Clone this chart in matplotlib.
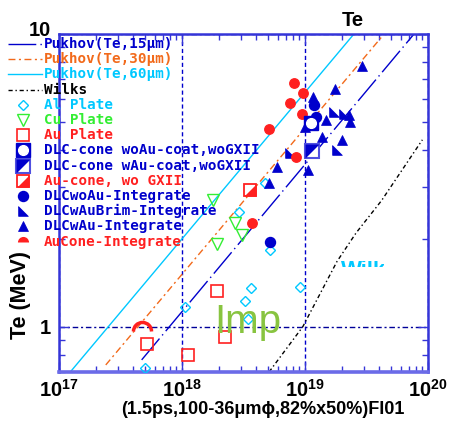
import matplotlib
matplotlib.use('Agg')
import matplotlib.pyplot as plt
from matplotlib.path import Path
from matplotlib.ticker import NullFormatter
from matplotlib.transforms import Bbox, TransformedBbox, ScaledTranslation

plt.rcParams['font.family'] = ['Liberation Sans', 'DejaVu Sans']
plt.rcParams['mathtext.fontset'] = 'custom'
plt.rcParams['mathtext.rm'] = 'Liberation Sans'
plt.rcParams['mathtext.bf'] = 'Liberation Sans:bold'
plt.rcParams['mathtext.default'] = 'bf'

# ---- datos ----
x_ticks = [1e17, 1e18, 1e19, 1e20]
x_tick_labels = [r'$10^{17}$', r'$10^{18}$', r'$10^{19}$', r'$10^{20}$']
y_ticks = [1, 10]
y_tick_labels = ['1', '10']

pukhov15_I = [4.7e17, 7.7e19]
pukhov15_Te = [0.77, 10.0]
pukhov30_I = [2.4e17, 4.4e19]
pukhov30_Te = [0.74, 10.0]
pukhov60_I = [1.2e17, 2.5e19]
pukhov60_Te = [0.69, 10.0]
wilks_I = [5.1e18, 9.6e18, 1.82e19, 2.6e19, 4.2e19, 9.0e19]
wilks_Te = [0.70, 1.0, 1.67, 2.09, 2.7, 4.35]

al_I = [5.0e17, 1.06e18, 3.25e18, 3.64e18, 3.44e18, 9.1e18, 5.19e18, 2.90e18, 4.73e18]
al_Te = [0.72, 1.17, 1.22, 1.36, 1.06, 1.37, 1.83, 2.47, 3.10]
cu_I = [1.79e18, 2.70e18, 3.08e18, 1.93e18]
cu_Te = [2.71, 2.26, 2.06, 1.92]
au_I = [5.2e17, 1.12e18, 2.24e18, 1.93e18]
au_Te = [0.87, 0.80, 0.92, 1.32]
dlc_woau_cone_I = [1.12e19]
dlc_woau_cone_Te = [4.97]
dlc_wau_cone_I = [1.14e19]
dlc_wau_cone_Te = [3.99]
au_cone_I = [3.57e18]
au_cone_Te = [2.94]
dlcwoau_int_I = [5.19e18, 1.18e19, 1.23e19]
dlcwoau_int_Te = [1.95, 5.72, 5.21]
brim_int_I = [1.72e19, 1.82e19, 7.6e18, 2.08e19]
brim_int_Te = [5.42, 4.02, 3.93, 5.33]
dlcwau_int_I = [2.91e19, 1.75e19, 1.48e19, 2.28e19, 2.32e19, 1.37e19, 2.0e19,
                5.92e18, 1.06e19, 5.10e18, 1.0e19, 1.16e19]
dlcwau_int_Te = [7.78, 6.49, 5.09, 5.29, 5.01, 4.45, 4.35, 3.52, 3.43, 3.10, 4.81, 6.10]
aucone_int_I = [8.15e18, 9.64e18, 7.55e18, 9.46e18, 5.10e18, 8.45e18, 3.71e18]
aucone_int_Te = [6.80, 6.29, 5.82, 5.33, 4.74, 3.80, 2.26]
arco_I = [4.7e17]
arco_Te = [0.97]

# ---- estilos ----
AZUL = '#0000cc'
NARANJA = '#f26a1b'
CIAN = '#00c8ff'
VERDE = '#33ee33'
ROJO = '#ff2020'
ESPINA = '#3535d8'

tri_ul = [(-1, 1), (-1, -1), (1, 1), (-1, 1)]
tri_lr = [(1, 1), (1, -1), (-1, -1), (1, 1)]
brim = [(-1, 1), (-1, -1), (1, -1), (-1, 1)]

estilo_p15 = (0, (20, 3, 1, 3))
estilo_p30 = (0, (5, 2.5, 1.5, 2.5))
estilo_wilks = (0, (3, 2, 1, 2))

fig = plt.figure(figsize=(4.54, 4.22), dpi=100)
ax = fig.add_axes([59 / 454, 1 - 372 / 422, (428 - 59) / 454, (372 - 34) / 422])
ax.set_xscale('log')
ax.set_yscale('log')
ax.set_xlim(1e17, 1e20)
ax.set_ylim(0.70, 10)

# lineas teoricas
ax.plot(pukhov15_I, pukhov15_Te, color=AZUL, lw=1, ls=estilo_p15, zorder=2)
ax.plot(pukhov30_I, pukhov30_Te, color=NARANJA, lw=1, ls=estilo_p30, zorder=2)
ax.plot(pukhov60_I, pukhov60_Te, color=CIAN, lw=1, zorder=2)
ax.plot(wilks_I, wilks_Te, color='black', lw=1, ls=estilo_wilks, zorder=2)

# datos experimentales
ax.plot(al_I, al_Te, ls='none', marker='D', ms=5.6, mfc='none', mec=CIAN, mew=1, zorder=3)
ax.plot(cu_I, cu_Te, ls='none', marker='v', ms=9, mfc='none', mec=VERDE, mew=1, zorder=3)
ax.plot(au_I, au_Te, ls='none', marker='s', ms=8, mfc='none', mec=ROJO, mew=1.2, zorder=3)
ax.plot(dlcwoau_int_I, dlcwoau_int_Te, ls='none', marker='o', ms=7.2, mfc=AZUL, mec=AZUL, zorder=4)
ax.plot(brim_int_I, brim_int_Te, ls='none', marker=brim, ms=7, mfc=AZUL, mec=AZUL, mew=0.5, zorder=4)
ax.plot(dlcwau_int_I, dlcwau_int_Te, ls='none', marker='^', ms=7, mfc=AZUL, mec=AZUL, mew=0.5, zorder=4)
ax.plot(aucone_int_I, aucone_int_Te, ls='none', marker='o', ms=6.8, mfc=ROJO, mec=ROJO, zorder=4)
ax.plot(dlc_woau_cone_I, dlc_woau_cone_Te, ls='none', marker='s', ms=10, mfc=AZUL, mec=AZUL, zorder=5)
ax.plot(dlc_woau_cone_I, dlc_woau_cone_Te, ls='none', marker='o', ms=7, mfc='white', mec='white', zorder=5)
ax.plot(dlc_wau_cone_I, dlc_wau_cone_Te, ls='none', marker='s', ms=10, mfc='white', mec='#5050e0', mew=1.5, zorder=5)
ax.plot(dlc_wau_cone_I, dlc_wau_cone_Te, ls='none', marker=tri_ul, ms=10, mfc=AZUL, mec='none', zorder=5)
ax.plot(au_cone_I, au_cone_Te, ls='none', marker='s', ms=9, mfc='white', mec=ROJO, mew=1.3, zorder=5)
ax.plot(au_cone_I, au_cone_Te, ls='none', marker=tri_lr, ms=9, mfc=ROJO, mec='none', zorder=5)
ax.plot(arco_I, arco_Te, ls='none', marker=Path.arc(0, 180), ms=13, mfc='none', mec=ROJO, mew=2.5, zorder=5)

# ejes
ax.xaxis.grid(True, which='major', color=AZUL, lw=1, ls=(0, (3, 2)))
ax.yaxis.grid(True, which='major', color='#000099', lw=1, ls=(0, (4, 2, 1.5, 2)))
ax.set_xticks(x_ticks)
ax.set_xticklabels(x_tick_labels)
ax.set_yticks(y_ticks)
ax.set_yticklabels(y_tick_labels)
ax.xaxis.set_minor_formatter(NullFormatter())
ax.yaxis.set_minor_formatter(NullFormatter())
ax.tick_params(which='both', direction='in', top=True, right=True, color=ESPINA, width=1)
ax.tick_params(which='major', length=7)
ax.tick_params(which='minor', length=4.5)
ax.tick_params(axis='x', labelsize=14.5, pad=5)
ax.tick_params(axis='y', labelsize=14.5, pad=6)
for lab in ax.get_yticklabels():
    lab.set_fontweight('bold')
# el "10" un poco mas arriba, como en el original
lab10 = ax.get_yticklabels()[1]
lab10.set_transform(lab10.get_transform() + ScaledTranslation(0, 4 / 72, fig.dpi_scale_trans))
for lado in ['left', 'top', 'right']:
    ax.spines[lado].set_color(ESPINA)
    ax.spines[lado].set_linewidth(1.8)
ax.spines['bottom'].set_color('#6b6be8')
ax.spines['bottom'].set_linewidth(2.6)

# textos en coordenadas de pixel
lax = fig.add_axes([0, 0, 1, 1], zorder=10)
lax.set_xlim(0, 454)
lax.set_ylim(422, 0)
lax.axis('off')

lax.text(353, 20, 'Te', ha='center', va='center', fontsize=14.5, fontweight='bold')
lax.text(21, 295, 'Te (MeV)', ha='center', va='center', rotation=90, fontsize=15.5, fontweight='bold')
lax.text(263, 410, '(1.5ps,100-36μmϕ,82%x50%)FI01', ha='center', va='center',
         fontsize=13, fontweight='bold')
lax.text(214, 333, 'Imp', ha='left', va='baseline', color='#88c440', fontsize=29)
wi = lax.text(341, 260, 'Wilks', ha='left', va='top', color=CIAN, fontsize=16, fontweight='bold')
wi.set_clip_box(TransformedBbox(Bbox.from_extents(338 / 454, 1 - 266.5 / 422, 384 / 454, 1 - 261 / 422),
                                fig.transFigure))
wi.set_clip_on(True)

# leyenda manual
entradas = [
    ('Pukhov(Te,15μm)', AZUL, 'l15'),
    ('Pukhov(Te,30μm)', NARANJA, 'l30'),
    ('Pukhov(Te,60μm)', CIAN, 'l60'),
    ('Wilks', 'black', 'lw'),
    ('Al Plate', CIAN, 'al'),
    ('Cu Plate', VERDE, 'cu'),
    ('Au Plate', ROJO, 'au'),
    ('DLC-cone woAu-coat,woGXII', AZUL, 'c1'),
    ('DLC-cone wAu-coat,woGXII', AZUL, 'c2'),
    ('Au-cone, wo GXII', ROJO, 'c3'),
    ('DLCwoAu-Integrate', AZUL, 'i1'),
    ('DLCwAuBrim-Integrate', AZUL, 'i2'),
    ('DLCwAu-Integrate', AZUL, 'i3'),
    ('AuCone-Integrate', ROJO, 'i4'),
]
estilos_linea = {'l15': estilo_p15, 'l30': estilo_p30, 'l60': '-', 'lw': estilo_wilks}
for i, (texto, color, h) in enumerate(entradas):
    y = 44 + 15.2 * i
    mx = 23
    if h in estilos_linea:
        lax.plot([8, 42], [y, y], color=color, lw=1, ls=estilos_linea[h])
    elif h == 'al':
        lax.plot(mx, y, marker='D', ms=5.6, mfc='none', mec=CIAN, mew=1)
    elif h == 'cu':
        lax.plot(mx, y, marker='v', ms=9, mfc='none', mec=VERDE, mew=1)
    elif h == 'au':
        lax.plot(mx, y, marker='s', ms=8, mfc='none', mec=ROJO, mew=1.2)
    elif h == 'c1':
        lax.plot(mx, y, marker='s', ms=10, mfc=AZUL, mec=AZUL)
        lax.plot(mx, y, marker='o', ms=7, mfc='white', mec='white')
    elif h == 'c2':
        lax.plot(mx, y, marker='s', ms=10, mfc='white', mec='#5050e0', mew=1.5)
        lax.plot(mx, y, marker=tri_ul, ms=10, mfc=AZUL, mec='none')
    elif h == 'c3':
        lax.plot(mx, y, marker='s', ms=9, mfc='white', mec=ROJO, mew=1.3)
        lax.plot(mx, y, marker=tri_lr, ms=9, mfc=ROJO, mec='none')
    elif h == 'i1':
        lax.plot(mx, y, marker='o', ms=7.2, mfc=AZUL, mec=AZUL)
    elif h == 'i2':
        lax.plot(mx, y, marker=brim, ms=7, mfc=AZUL, mec=AZUL, mew=0.5)
    elif h == 'i3':
        lax.plot(mx, y, marker='^', ms=7, mfc=AZUL, mec=AZUL, mew=0.5)
    elif h == 'i4':
        lax.plot(mx, y, marker='o', ms=8, fillstyle='top', mfc=ROJO, mfcalt='none', mew=0)
    lax.text(44, y, texto, ha='left', va='center', color=color, fontsize=10.3,
             family='DejaVu Sans Mono', fontweight='bold')

fig.savefig('out.png', dpi=100)
